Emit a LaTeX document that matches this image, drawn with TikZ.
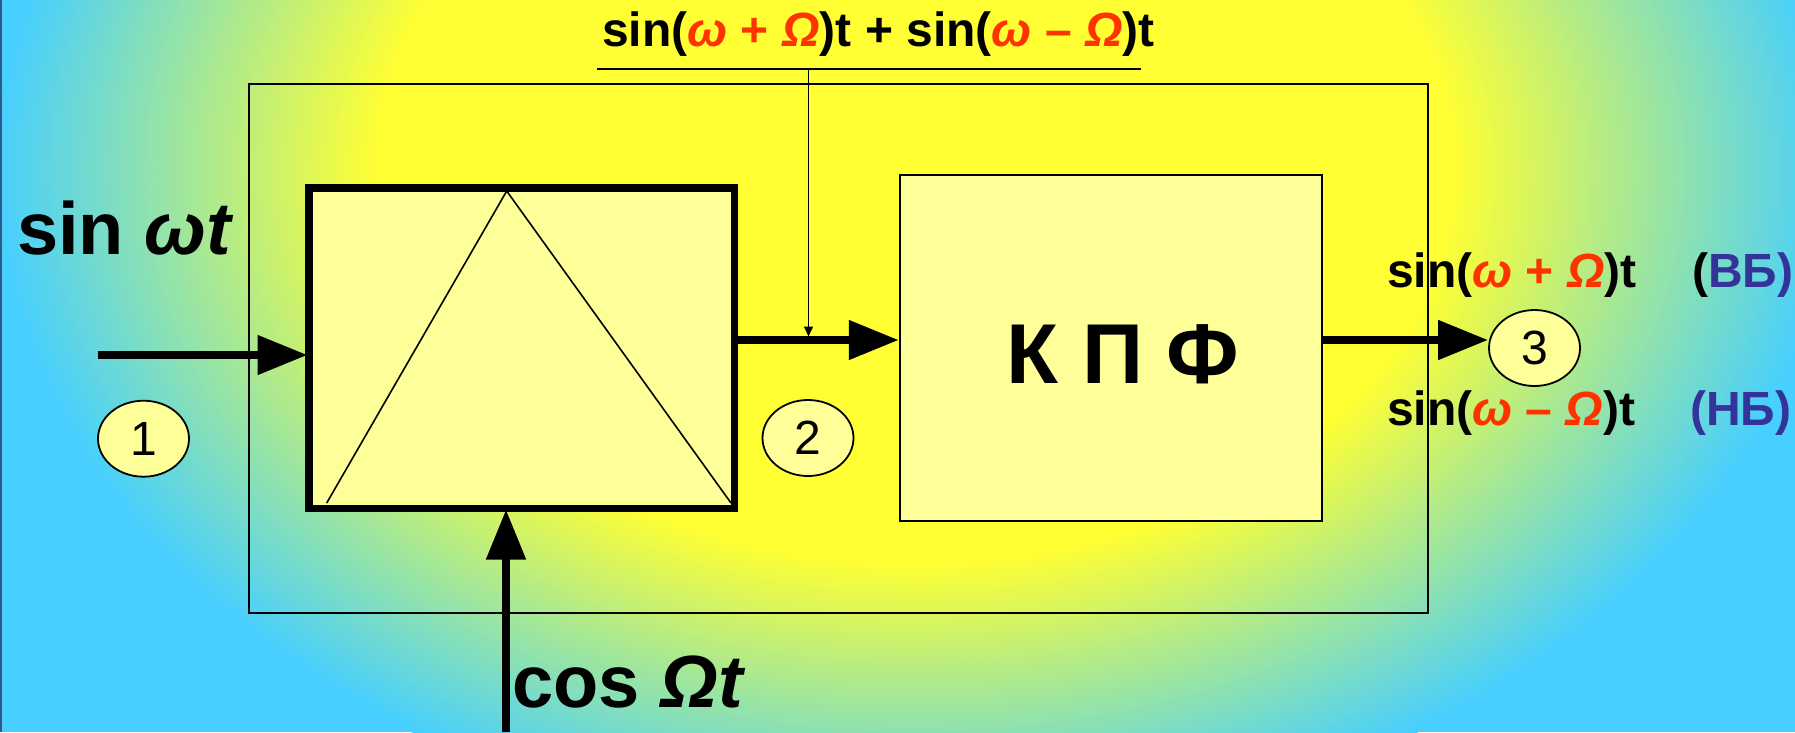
\documentclass[tikz,border=0pt]{standalone}
\usepackage{fontspec}
\setmainfont{Liberation Sans}
\usetikzlibrary{arrows.meta,shapes.geometric}
\definecolor{yel}{RGB}{255,255,51}
\definecolor{cya}{RGB}{71,207,255}
\definecolor{boxfill}{HTML}{FFFF99}
\definecolor{redt}{HTML}{FF3300}
\definecolor{blut}{HTML}{333399}
\definecolor{edgeline}{HTML}{2F5A88}
\tikzset{
  mixbox/.style={draw, line width=5pt, fill=boxfill, inner sep=0pt, minimum width=423pt, minimum height=318pt},
  filterbox/.style={draw, line width=2.5pt, fill=boxfill, inner sep=0pt, minimum width=422pt, minimum height=346pt},
  framebox/.style={draw, line width=2pt, inner sep=0pt, minimum width=1179pt, minimum height=529pt},
  numnode/.style={ellipse, draw, line width=1.8pt, fill=boxfill, inner sep=0pt, minimum width=91pt, minimum height=76pt, font=\fontsize{48}{52}\selectfont},
  sigarrow/.style={line width=8pt, -{Triangle[length=50pt,width=38pt]}},
  thinarrow/.style={line width=1.5pt, -{Triangle[length=10pt,width=9pt]}},
  formula/.style={anchor=base west, inner sep=0pt, font=\fontsize{48}{56}\selectfont\bfseries},
  biglabel/.style={anchor=base west, inner sep=0pt, font=\fontsize{74}{80}\selectfont\bfseries},
}
\begin{document}
\begin{tikzpicture}[x=1pt,y=-1pt]
\useasboundingbox (0,0) rectangle (1795,732);
\begin{scope}
\clip (0,0) rectangle (1795,732);
\fill[cya] (0,0) rectangle (1795,732);
\foreach \i in {0,...,76}{
  \pgfmathsetmacro\ff{0.92-0.38*\i/76}
  \pgfmathsetmacro\pp{100*\i/76}
  \fill[yel!\pp!cya] (915,170) ellipse [x radius=1000*\ff, y radius=730*\ff];
}
\end{scope}
\fill[edgeline] (0,0) rectangle (1.5,732);

% outer frame
\node[framebox] (frame) at (838.8,348) {};

% mixer
\node[mixbox] (mix) at (521.5,348) {};
\draw[line width=1.6pt] (326.7,503) -- (506.7,191) -- (731,503);
\draw[line width=5pt] (mix.south west) rectangle (mix.north east);

% filter
\node[filterbox] (kpf) at (1111,348) {};
\node[inner sep=0pt, font=\fontsize{85}{90}\selectfont\bfseries] (kpft) at (1123,354.5) {К П Ф};

% numbered circles
\node[numnode] (c1) at (143.5,438.7) {1};
\node[numnode] (c2) at (808,438) {2};
\node[numnode] (c3) at (1534.5,348) {3};

% connectors
\coordinate (s1) at (98,355);
\coordinate (y2) at (0,340);
\coordinate (s4) at (506,732);
\draw[sigarrow] (s1) -- (s1 -| mix.west);
\draw[sigarrow] (mix.east |- y2) -- (kpf.west |- y2);
\draw[sigarrow] (kpf.east |- y2) -- (c3.west |- y2);
\draw[sigarrow] (s4) -- (s4 |- mix.south);

% top sum line
\coordinate (ul1) at (597,69);
\coordinate (ul2) at (1141,69);
\coordinate (tp1) at (808.5,69);
\coordinate (tp2) at (808.5,336.5);
\draw[line width=1.6pt] (ul1) -- (ul2);
\draw[thinarrow] (tp1) -- (tp2);

% labels
\node[formula] (toplbl) at (602,46) {sin(\textcolor{redt}{\textit{ω} + \textit{Ω}})t + sin(\textcolor{redt}{\textit{ω} – \textit{Ω}})t};
\node[formula] (vb) at (1387,287) {sin(\textcolor{redt}{\textit{ω} + \textit{Ω}})t};
\node[formula] (vbt) at (1692,287) {(\textcolor{blut}{ВБ)}};
\node[formula] (nb) at (1387,425) {sin(\textcolor{redt}{\textit{ω} – \textit{Ω}})t};
\node[formula] (nbt) at (1690,425) {\textcolor{blut}{(НБ)}};
\node[biglabel] (sinlbl) at (17,254) {sin \textit{ωt}};
\node[biglabel] (coslbl) at (512,707) {cos \textit{Ωt}};
\end{tikzpicture}
\end{document}
